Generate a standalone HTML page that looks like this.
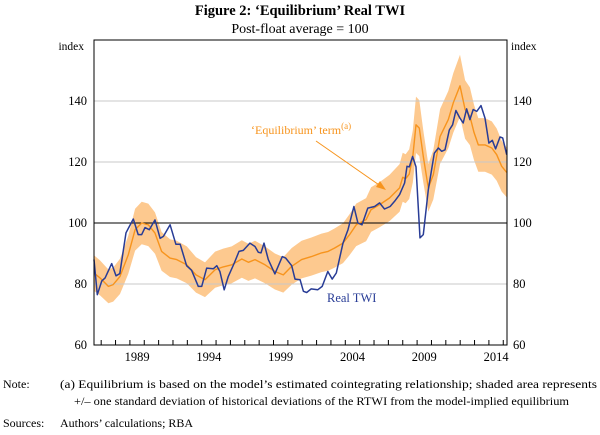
<!DOCTYPE html>
<html><head><meta charset="utf-8">
<style>
html,body{margin:0;padding:0;background:#fff;}
svg{display:block;font-family:"Liberation Serif",serif;}
</style></head>
<body>
<svg id="chart" width="600" height="435" viewBox="0 0 600 435" xmlns="http://www.w3.org/2000/svg">
<text x="300" y="15" text-anchor="middle" font-size="14.5" font-weight="bold">Figure 2: ‘Equilibrium’ Real TWI</text>
<text x="300" y="33" text-anchor="middle" font-size="14">Post-float average = 100</text>
<g id="band"></g>
<g id="grid"></g>
<g id="lines"></g>
<g id="axes"></g>
<text x="84" y="50" text-anchor="end" font-size="11.5">index</text>
<text x="511" y="50" font-size="11.5">index</text>
<text x="251" y="134" font-size="12" fill="#f7941d">‘Equilibrium’ term<tspan font-size="9" dy="-5">(a)</tspan></text>
<line x1="316" y1="141" x2="382" y2="187" stroke="#f7941d" stroke-width="1"/>
<polygon points="386,190 376,187 380,181" fill="#f7941d"/>
<text x="327" y="302" font-size="12.5" fill="#283c96">Real TWI</text>
<g font-size="12">
<text x="3" y="388">Note:</text>
<text x="60" y="388" textLength="537" lengthAdjust="spacingAndGlyphs">(a) Equilibrium is based on the model’s estimated cointegrating relationship; shaded area represents</text>
<text x="74" y="405" textLength="495" lengthAdjust="spacingAndGlyphs">+/– one standard deviation of historical deviations of the RTWI from the model-implied equilibrium</text>
<text x="3" y="427">Sources:</text>
<text x="60" y="427">Authors’ calculations; RBA</text>
</g>
</svg>
<script>
const twiYears=[1986.5,1986.73,1987.04,1987.27,1987.73,1988.03,1988.3,1988.73,1989.24,1989.58,1989.82,1990.05,1990.35,1990.75,1991.1,1991.33,1991.8,1992.2,1992.5,1992.95,1993.3,1993.76,1994.0,1994.35,1994.81,1995.05,1995.27,1995.57,1995.85,1996.27,1996.6,1996.9,1997.36,1997.71,1997.94,1998.13,1998.34,1998.64,1999.1,1999.61,1999.85,2000.27,2000.5,2000.85,2001.08,2001.31,2001.62,2002.08,2002.39,2002.78,2003.09,2003.37,2003.84,2004.19,2004.6,2004.88,2005.16,2005.57,2006.04,2006.39,2006.73,2007.12,2007.43,2007.78,2008.13,2008.3,2008.46,2008.69,2008.92,2009.2,2009.43,2009.78,2010.2,2010.48,2010.71,2010.94,2011.24,2011.47,2011.7,2011.98,2012.21,2012.45,2012.68,2012.91,2013.15,2013.45,2013.73,2014.0,2014.24,2014.47,2014.77,2014.96,2015.24];
const twiValues=[88,76.5,81,82,86.7,82.7,83.4,96.8,101.3,96.2,96.2,98.5,97.8,101,95,95.6,99.4,93,93,86,84.5,79.2,79.2,85.2,85,86,84.1,78.1,82.5,86.9,90.7,91,93.4,92.3,90.4,90.2,93.4,88,83.3,89,88.5,86,81.6,81.4,77.6,77.2,78.4,78.1,79.2,84.1,81.6,83.6,93.4,97.8,105.4,100,99.4,104.9,105.4,106.6,104.6,105.4,107.1,109.3,113.1,118.6,118.4,121.8,118.4,95.1,96.2,110.9,122.9,124.6,123.5,124,130.5,132.2,136.9,134.4,132.8,137.4,133.9,137.2,136.6,138.5,134.4,126.2,127.1,124.3,128.2,127.9,122.4];
const eqYears=[1986.5,1986.92,1987.5,1987.84,1988.31,1988.89,1989.36,1989.82,1990.28,1990.75,1991.21,1991.79,1992.26,1992.96,1993.6,1994.23,1994.93,1995.5,1996.09,1996.79,1997.25,1997.71,1998.41,1999.1,1999.68,2000.27,2000.96,2001.64,2002.34,2002.8,2003.26,2003.84,2004.3,2004.76,2005.45,2005.8,2006.39,2007.08,2007.78,2008.0,2008.2,2008.45,2008.7,2008.92,2009.15,2009.43,2009.78,2010.13,2010.6,2011.17,2011.52,2011.99,2012.34,2012.68,2012.96,2013.26,2013.73,2014.2,2014.54,2014.89,2015.24];
const eqValues=[83.6,82,79.2,79.8,82.5,89.6,97.8,100,99.4,96.7,90.7,88.5,88,86.3,83,81.4,84.7,85.6,86.3,88.2,87.1,88,86.3,84.1,83,85.8,88,89,90.2,90.7,91.8,93.4,96.2,99.4,101.1,104.4,106,108.2,111.5,115,114.5,116,121.8,132.2,131.1,121.8,111.5,115.8,128.4,133.9,139.4,145,137.2,135,129.7,125.6,125.6,124.6,122.4,118.6,116.6];
const bandPct=[0.07];
const yTicks=[60,80,100,120,140];
const xLabels=[1989,1994,1999,2004,2009,2014];

const NS="http://www.w3.org/2000/svg";
const L=94,R=507,T=40,B=345,Y0=1986.5,PX=14.36,VMIN=60,VMAX=160;
function xs(y){return L+(y-Y0)*PX;}
function ys(v){return B-(v-VMIN)/(VMAX-VMIN)*(B-T);}
function mk(tag,attrs,parent){const e=document.createElementNS(NS,tag);for(const k in attrs)e.setAttribute(k,attrs[k]);parent.appendChild(e);return e;}
const band=document.getElementById('band'),grid=document.getElementById('grid'),lines=document.getElementById('lines'),axes=document.getElementById('axes');

let up=eqYears.map((y,i)=>xs(y).toFixed(1)+','+ys(eqValues[i]*(1+bandPct[0])).toFixed(1));
let dn=eqYears.map((y,i)=>xs(y).toFixed(1)+','+ys(eqValues[i]*(1-bandPct[0])).toFixed(1)).reverse();
const bp=mk('polygon',{points:up.concat(dn).join(' '),fill:'#fdc98f'},band);



yTicks.forEach(v=>{
  if(v!==60){
    const g=mk('line',{x1:L,x2:R,y1:ys(v),y2:ys(v),stroke:v===100?'#000':'#c8c8c8','stroke-width':1},grid);
    
    
  }
  const tl=mk('text',{x:87,y:ys(v)+4,'text-anchor':'end','font-size':12.5},axes);
  tl.textContent=v;
  
  
  const tr=mk('text',{x:513,y:ys(v)+4,'font-size':12.5},axes);
  tr.textContent=v;
  
  
});

const eqLine=mk('polyline',{points:eqYears.map((y,i)=>xs(y).toFixed(1)+','+ys(eqValues[i]).toFixed(1)).join(' '),fill:'none',stroke:'#f7941d','stroke-width':1.4,'stroke-linejoin':'round'},lines);


const twiLine=mk('polyline',{points:twiYears.map((y,i)=>xs(y).toFixed(1)+','+ys(twiValues[i]).toFixed(1)).join(' '),fill:'none',stroke:'#283c96','stroke-width':1.5,'stroke-linejoin':'round'},lines);



const fr=mk('rect',{x:L,y:T,width:R-L,height:B-T,fill:'none',stroke:'#000','stroke-width':1},axes);


for(let yr=1987;yr<=2015;yr++){
  const t=mk('line',{x1:xs(yr),x2:xs(yr),y1:B,y2:B-5,stroke:'#000','stroke-width':1},axes);
  
  
}
xLabels.forEach(yr=>{
  const t=mk('text',{x:xs(yr+0.5),y:B+16,'text-anchor':'middle','font-size':12.5},axes);
  t.textContent=yr;
  
  
});
</script>
</body></html>
